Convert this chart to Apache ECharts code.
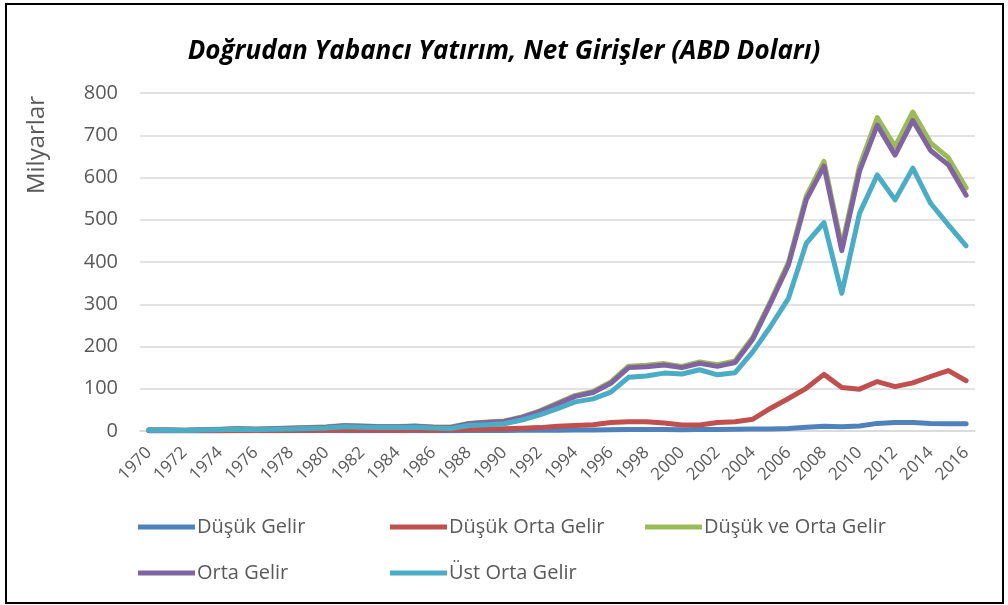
<!DOCTYPE html>
<html>
<head>
<meta charset="utf-8">
<script src="https://cdn.jsdelivr.net/npm/echarts@6/dist/echarts.min.js"></script>
<style>
html, body { margin: 0; padding: 0; background: #fff; }
#chart { width: 1008px; height: 605px; }
</style>
</head>
<body>
<div id="chart"></div>
<script>
(function () {
'use strict';

// yıllar
var years = [];
for (var y = 1970; y <= 2016; y++) { years.push(String(y)); }

// Milyar ABD doları
var dusukGelir = [0.3,0.4,0.3,0.4,0.5,0.6,0.5,0.6,0.7,0.8,0.9,0.8,0.7,0.6,0.7,0.8,0.7,0.8,
    1.0,1.2,1.3,1.5,1.8,2.0,2.3,2.5,3.0,3.5,3.8,3.5,
    3.0,3.5,3.8,4,4.5,5,6,9,11,10,12,18,20,20,18,17,17];
var dusukOrtaGelir = [0.5,0.6,0.5,0.6,0.8,1.2,1.0,1.2,1.5,1.6,2.0,2.5,2.2,2.0,2.0,2.2,2.0,2.5,
    4,5,5.5,6.5,8,11,13,15,20,22,22,19,
    14,14,20,22,28,54,77,101,134,103,99,117,105,114,129,143,119];
var dusukVeOrtaGelir = [2.8,3.0,1.8,3.5,4.3,5.8,4.5,5.8,7.2,8.4,9.9,13.3,11.9,10.6,10.7,12.0,9.7,9.3,
    18,21.2,23.8,33.5,47.8,66,84.3,93.5,116,153.5,155.8,159.5,
    153,163.5,156.8,166,222.5,308,399,556,638,437,627,742,673,755,682,647,575];
var ortaGelir = [2.5,2.6,1.5,3.1,3.8,5.2,4,5.2,6.5,7.6,9,12.5,11.2,10,10,11.2,9,8.5,
    17,20,22.5,32,46,64,82,91,113,150,152,156,
    150,160,153,162,218,303,393,547,627,427,615,724,653,735,664,630,558];
var ustOrtaGelir = [2,2,1,2.5,3,4,3,4,5,6,7,10,9,8,8,9,7,6,
    13,15,17,26,38,53,69,76,92,127,130,137,
    135,145,133,138,188,248,314,444,493,326,515,606,547,622,539,488,438];

var seriesNames = ['Düşük Gelir', 'Düşük Orta Gelir', 'Düşük ve Orta Gelir', 'Orta Gelir', 'Üst Orta Gelir'];
var seriesData = [dusukGelir, dusukOrtaGelir, dusukVeOrtaGelir, ortaGelir, ustOrtaGelir];
var colors = ['#4F81BD', '#C0504D', '#9BBB59', '#8064A2', '#4BACC6'];

// lejant konumları (sol, üst)
var legendPos = [[133, 512], [385, 512], [640, 512], [133, 558], [385, 558]];

var font = '"Open Sans", "Noto Sans", sans-serif';
var textColor = '#595959';

// her seri için ayrı lejant, Excel'deki sütun düzeni gibi
var legends = seriesNames.map(function (name, i) {
    return {
        left: legendPos[i][0],
        top: legendPos[i][1],
        data: [name],
        icon: 'rect',
        itemWidth: 57,
        itemHeight: 5,
        selectedMode: false,
        textStyle: { fontFamily: font, fontSize: 20, color: textColor, padding: [0, 0, 0, -3] }
    };
});

var option = {
    animation: false,
    backgroundColor: '#fff',
    color: colors,
    title: {
        text: 'Doğrudan Yabancı Yatırım, Net Girişler (ABD Doları)',
        left: 'center',
        top: 34,
        textStyle: { fontFamily: font, fontSize: 26, fontWeight: 'bold', fontStyle: 'italic', color: '#000' }
    },
    legend: legends,
    grid: { left: 140, right: 33, top: 93, bottom: 174, containLabel: false },
    xAxis: {
        type: 'category',
        data: years,
        boundaryGap: true,
        axisLine: { lineStyle: { color: '#D9D9D9', width: 1.5 } },
        axisTick: { show: false },
        axisLabel: { interval: 1, rotate: 45, fontFamily: font, fontSize: 17, color: textColor, margin: 19 }
    },
    yAxis: {
        type: 'value',
        min: 0,
        max: 800,
        interval: 100,
        axisLine: { show: false },
        axisTick: { show: false },
        splitLine: { lineStyle: { color: '#D9D9D9', width: 1.5 } },
        axisLabel: { fontFamily: font, fontSize: 20, color: textColor, margin: 22 }
    },
    graphic: [
        {
            type: 'text',
            x: 37,
            y: 145,
            rotation: Math.PI / 2,
            style: { text: 'Milyarlar', font: '24px ' + font, fill: textColor, align: 'center', verticalAlign: 'middle' }
        },
        {
            type: 'rect',
            shape: { x: 6, y: 4, width: 997, height: 599 },
            style: { fill: 'none', stroke: '#000', lineWidth: 2 }
        }
    ],
    series: seriesNames.map(function (name, i) {
        return {
            name: name,
            type: 'line',
            data: seriesData[i],
            symbol: 'none',
            lineStyle: { width: 5, cap: 'round', join: 'round' },
            z: 2 + i
        };
    })
};

var chart = echarts.init(document.getElementById('chart'), null, { renderer: 'canvas' });
chart.setOption(option);
})();
</script>
</body>
</html>
